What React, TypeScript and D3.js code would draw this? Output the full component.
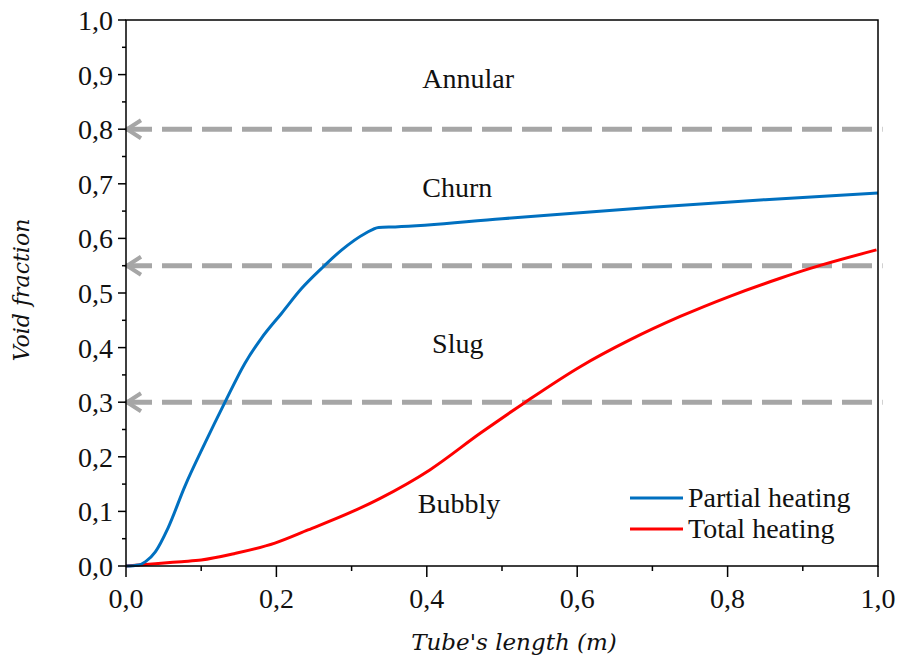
import * as d3 from "d3"

const partialX = [0, 0.017, 0.026, 0.039, 0.056, 0.078, 0.105, 0.132, 0.158, 0.18, 0.207, 0.234, 0.26, 0.287, 0.318, 0.336, 0.358, 0.5, 0.7, 0.85, 1.0]
const partialY = [0, 0.002, 0.008, 0.026, 0.07, 0.145, 0.225, 0.301, 0.371, 0.417, 0.463, 0.509, 0.545, 0.579, 0.609, 0.62, 0.621, 0.636, 0.657, 0.671, 0.683]

const totalX = [0, 0.039, 0.074, 0.1, 0.145, 0.198, 0.242, 0.3, 0.338, 0.404, 0.471, 0.531, 0.604, 0.67, 0.737, 0.803, 0.87, 0.91, 0.998]
const totalY = [0, 0.004, 0.008, 0.011, 0.023, 0.042, 0.066, 0.099, 0.124, 0.176, 0.243, 0.3, 0.365, 0.414, 0.457, 0.494, 0.527, 0.545, 0.579]

const thresholds = [0.8, 0.55, 0.3]
const regimes = ["Annular", "Churn", "Slug", "Bubbly"]
const xTicks = [0, 0.2, 0.4, 0.6, 0.8, 1.0]
const yTicks = [0, 0.1, 0.2, 0.3, 0.4, 0.5, 0.6, 0.7, 0.8, 0.9, 1.0]
const seriesNames = ["Partial heating", "Total heating"]

const W = 900
const H = 663
const fmt = (v: number) => v.toFixed(1).replace(".", ",")

export default function App() {
  const x = d3.scaleLinear().domain([0, 1]).range([126, 878])
  const y = d3.scaleLinear().domain([0, 1]).range([566, 20])

  const line = d3.line<[number, number]>()
    .x(d => x(d[0]))
    .y(d => y(d[1]))
    .curve(d3.curveMonotoneX)

  const partial = partialX.map((v, i) => [v, partialY[i]] as [number, number])
  const total = totalX.map((v, i) => [v, totalY[i]] as [number, number])

  const minorX = d3.range(0.1, 1.0, 0.2)
  const minorY = d3.range(0.05, 1.0, 0.1)

  // label spots in data units (left edge, baseline)
  const labelPos: [number, number][] = [[0.394, 0.875], [0.394, 0.676], [0.407, 0.39], [0.388, 0.097]]

  const serif = "'Liberation Serif', 'Times New Roman', serif"
  const grey = "#a6a6a6"

  return (
    <svg width={W} height={H} style={{ position: "absolute", left: 0, top: 0, background: "#fff" }}>
      <g fontFamily={serif} fontSize={28} fill="#111">
        {/* thresholds with arrows */}
        {thresholds.map(t => (
          <g key={t}>
            <line x1={x(0)} x2={x(1.006)} y1={y(t)} y2={y(t)} stroke={grey} strokeWidth={5}
              strokeDasharray="30 10" strokeDashoffset={4} />
            <polyline points={`${x(0) + 15},${y(t) - 9} ${x(0) + 1},${y(t)} ${x(0) + 15},${y(t) + 9}`}
              fill="none" stroke={grey} strokeWidth={4} />
          </g>
        ))}

        <path d={line(total)!} fill="none" stroke="#ff0000" strokeWidth={3} />
        <path d={line(partial)!} fill="none" stroke="#0070c0" strokeWidth={3} />

        {/* frame */}
        <path d={`M${x(0)},${y(0)}V${y(1)}H${x(1)}V${y(0)}Z`} fill="none" stroke="#000" strokeWidth={1.5} />

        {xTicks.map(t => (
          <g key={"x" + t}>
            <line x1={x(t)} x2={x(t)} y1={y(0)} y2={y(0) + 11} stroke="#000" strokeWidth={1.5} />
            <text x={x(t)} y={y(0) + 42} textAnchor="middle">{fmt(t)}</text>
          </g>
        ))}
        {minorX.map(t => (
          <line key={"mx" + t} x1={x(t)} x2={x(t)} y1={y(0)} y2={y(0) + 5} stroke="#000" strokeWidth={1.5} />
        ))}
        {yTicks.map(t => (
          <g key={"y" + t}>
            <line x1={x(0) - 8} x2={x(0)} y1={y(t)} y2={y(t)} stroke="#000" strokeWidth={1.5} />
            <text x={x(0) - 13} y={y(t)} dy="0.36em" textAnchor="end">{fmt(t)}</text>
          </g>
        ))}
        {minorY.map(t => (
          <line key={"my" + t} x1={x(0) - 4} x2={x(0)} y1={y(t)} y2={y(t)} stroke="#000" strokeWidth={1.5} />
        ))}

        {regimes.map((r, i) => (
          <text key={r} x={x(labelPos[i][0])} y={y(labelPos[i][1])}>{r}</text>
        ))}

        {/* legend */}
        {seriesNames.map((s, i) => (
          <g key={s} transform={`translate(630,${498 + i * 31})`}>
            <line x1={0} x2={53} y1={0} y2={0} stroke={i === 0 ? "#0070c0" : "#ff0000"} strokeWidth={3} />
            <text x={58} y={0} dy="0.33em">{s}</text>
          </g>
        ))}

        <text x={514} y={650} textAnchor="middle" fontFamily="'DejaVu Serif', serif" fontStyle="italic" fontSize={23}>
          Tube's length (m)
        </text>
        <text transform={`translate(29,290) rotate(-90)`} textAnchor="middle" fontFamily="'DejaVu Serif', serif"
          fontStyle="italic" fontSize={22}>
          Void fraction
        </text>
      </g>
    </svg>
  )
}
